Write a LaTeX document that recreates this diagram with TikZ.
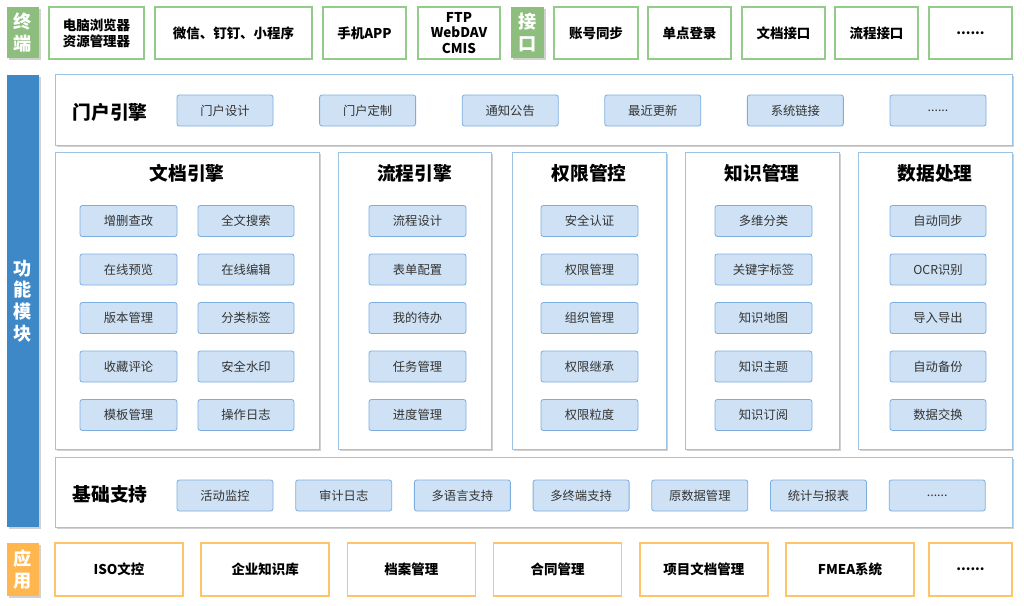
\documentclass[tikz,border=0pt]{standalone}
\usepackage{fontspec}
\setmainfont{Noto Sans CJK SC}
\usetikzlibrary{shadows}

\definecolor{termfill}{HTML}{8DBE7E}
\definecolor{termline}{HTML}{93CB88}
\definecolor{funcbar}{HTML}{3F88C8}
\definecolor{modline}{HTML}{9CC2E5}
\definecolor{itemfill}{HTML}{CFE2F5}
\definecolor{itemline}{HTML}{7EAEDF}
\definecolor{appfill}{HTML}{FFB64E}
\definecolor{appline}{HTML}{FFC36A}

% block from corner (x1,y1) to corner (x2,y2), in pixels
\newcommand{\blk}[7][]{%
  \node[#1, minimum width={(#5-#3)*0.03cm}, minimum height={(#6-#4)*0.03cm}]
    (#2) at ({(#3+#5)/2},{(#4+#6)/2}) {#7};}
\newcommand{\etcdots}{......}

\begin{document}
\begin{tikzpicture}[x=0.03cm,y=-0.03cm,
	every node/.style={inner sep=0pt, outer sep=0pt, align=center},
	softshadow/.style={drop shadow={shadow xshift=1.5pt, shadow yshift=-1.5pt, opacity=0.18, fill=black}},
	sidelabel/.style={draw=none, text=white, font=\fontsize{15.5}{18.5}\selectfont\bfseries, softshadow},
	termbox/.style={draw=termline, line width=1.2pt, fill=white, font=\fontsize{11.5}{13.5}\selectfont\bfseries},
	modbox/.style={draw=modline, line width=0.8pt, fill=white, softshadow},
	itembox/.style={draw=itemline, line width=0.7pt, fill=itemfill, rounded corners=2pt,
		text=black!80, font=\fontsize{10.5}{12}\selectfont},
	modtitle/.style={font=\fontsize{16}{18}\selectfont\bfseries},
	appbox/.style={draw=appline, line width=1.2pt, fill=white, font=\fontsize{11.5}{13.5}\selectfont\bfseries}]
\useasboundingbox[fill=white] (0,0) rectangle (1024,605);

% terminals and interfaces
\blk[sidelabel, fill=termfill]{term}{7}{7}{39}{58}{终\\端}
\blk[termbox]{browser}{49}{7}{144}{59}{电脑浏览器\\资源管理器}
\blk[termbox]{wechat}{155}{7}{312}{59}{微信、钉钉、小程序}
\blk[termbox]{app}{323}{7}{406}{59}{手机APP}
\blk[termbox]{ftp}{418}{7}{500}{59}{FTP\\WebDAV\\CMIS}
\blk[sidelabel, fill=termfill]{intf}{511}{7}{544}{58}{接\\口}
\blk[termbox]{sync}{554}{7}{638}{59}{账号同步}
\blk[termbox]{sso}{648}{7}{731}{59}{单点登录}
\blk[termbox]{docapi}{742}{7}{825}{59}{文档接口}
\blk[termbox]{flowapi}{835}{7}{918}{59}{流程接口}
\blk[termbox]{moreapi}{929}{7}{1012}{59}{\etcdots}

% function modules
\blk[sidelabel, fill=funcbar]{func}{7}{75}{39}{527}{功\\能\\模\\块}

\blk[modbox]{portal}{55}{74}{1012}{145}{}
\node[modtitle] (portal-t) at (110,112) {门户引擎};
\foreach \t [count=\i, evaluate=\i as \x using {177+142.6*(\i-1)}] in {门户设计,门户定制,通知公告,最近更新,系统链接,\etcdots}
	\blk[itembox]{portal-\i}{\x}{95}{\x+96}{126}{\t};

\blk[modbox]{doc}{55}{152}{319}{449}{}
\blk[modbox]{flow}{338}{152}{491}{449}{}
\blk[modbox]{perm}{512}{152}{666}{449}{}
\blk[modbox]{know}{685}{152}{839}{449}{}
\blk[modbox]{data}{858}{152}{1012}{449}{}
\foreach \m/\t in {doc/文档引擎,flow/流程引擎,perm/权限管控,know/知识管理,data/数据处理}
	\node[modtitle] (\m-t) at (\m.center |- 0,173) {\t};

\foreach \t [count=\i, evaluate=\i as \y using {205.5+48.5*(\i-1)}] in {增删查改,在线预览,版本管理,收藏评论,模板管理}
	\blk[itembox]{doc-a\i}{80}{\y}{177}{\y+31}{\t};
\foreach \t [count=\i, evaluate=\i as \y using {205.5+48.5*(\i-1)}] in {全文搜索,在线编辑,分类标签,安全水印,操作日志}
	\blk[itembox]{doc-b\i}{198}{\y}{294}{\y+31}{\t};
\foreach \t [count=\i, evaluate=\i as \y using {205.5+48.5*(\i-1)}] in {流程设计,表单配置,我的待办,任务管理,进度管理}
	\blk[itembox]{flow-\i}{369}{\y}{466}{\y+31}{\t};
\foreach \t [count=\i, evaluate=\i as \y using {205.5+48.5*(\i-1)}] in {安全认证,权限管理,组织管理,权限继承,权限粒度}
	\blk[itembox]{perm-\i}{541}{\y}{638}{\y+31}{\t};
\foreach \t [count=\i, evaluate=\i as \y using {205.5+48.5*(\i-1)}] in {多维分类,关键字标签,知识地图,知识主题,知识订阅}
	\blk[itembox]{know-\i}{715}{\y}{812}{\y+31}{\t};
\foreach \t [count=\i, evaluate=\i as \y using {205.5+48.5*(\i-1)}] in {自动同步,OCR识别,导入导出,自动备份,数据交换}
	\blk[itembox]{data-\i}{890}{\y}{986}{\y+31}{\t};

\blk[modbox]{base}{55}{457}{1012}{527}{}
\node[modtitle] (base-t) at (110,494) {基础支持};
\foreach \t [count=\i, evaluate=\i as \x using {177+118.7*(\i-1)}] in {活动监控,审计日志,多语言支持,多终端支持,原数据管理,统计与报表,\etcdots}
	\blk[itembox]{base-\i}{\x}{480}{\x+96}{511}{\t};

% applications
\blk[sidelabel, fill=appfill]{apps}{7}{543}{39}{596}{应\\用}
\foreach \t [count=\i, evaluate=\i as \x using {55+146.2*(\i-1)}] in {ISO文控,企业知识库,档案管理,合同管理,项目文档管理,FMEA系统}
	\blk[appbox]{app-\i}{\x}{543}{\x+128}{596}{\t};
\blk[appbox]{app-more}{929}{543}{1012}{596}{\etcdots}
\end{tikzpicture}
\end{document}
